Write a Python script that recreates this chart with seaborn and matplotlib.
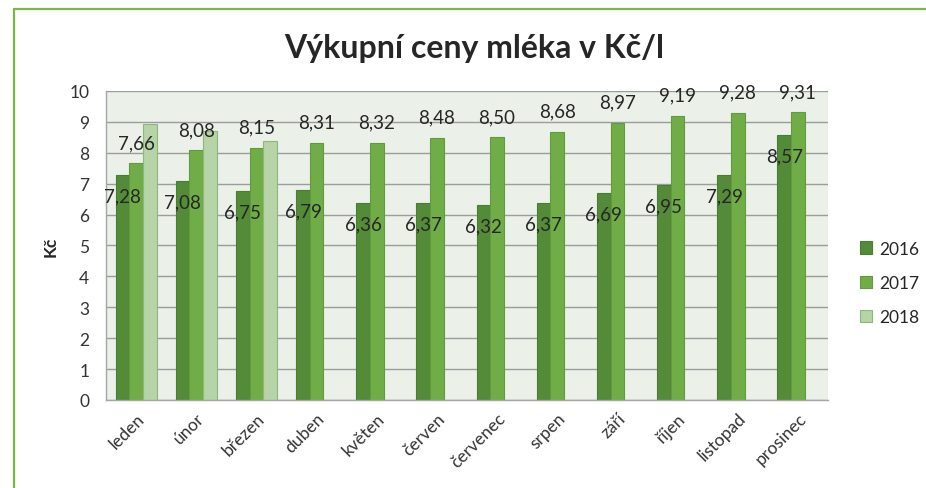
import numpy as np
import pandas as pd
import seaborn as sns
from matplotlib import pyplot as plt
from matplotlib.lines import Line2D
from matplotlib.patches import Rectangle

months = ["leden", "únor", "březen", "duben", "květen", "červen",
          "červenec", "srpen", "září", "říjen", "listopad", "prosinec"]
years = ["2016", "2017", "2018"]
price_2016 = [7.28, 7.08, 6.75, 6.79, 6.36, 6.37, 6.32, 6.37, 6.69, 6.95, 7.29, 8.57]
price_2017 = [7.66, 8.08, 8.15, 8.31, 8.32, 8.48, 8.50, 8.68, 8.97, 9.19, 9.28, 9.31]
# 2018 only has the first three months (no value labels in the source)
price_2018 = [8.94, 8.69, 8.38]

colors = ["#548B38", "#70AD47", "#B7D3A8"]
edges = ["#4A7C31", "#629A3D", "#8DB87A"]

price_2018_full = price_2018 + [np.nan] * (len(months) - len(price_2018))
df = pd.DataFrame({
    "month": months * 3,
    "year": [y for y in years for _ in months],
    "price": price_2016 + price_2017 + price_2018_full,
})

sns.set_style("white")
plt.rcParams['font.family'] = ['Lato', 'DejaVu Sans']

fig = plt.figure(figsize=(9.26, 4.89), dpi=100)
ax = fig.add_axes([0.1145, 0.18, 0.7797, 0.632])
ax.set_facecolor("#EBF0E9")

sns.barplot(data=df, x="month", y="price", hue="year", order=months,
            hue_order=years, palette=colors, saturation=1, width=0.68,
            errorbar=None, legend=False, ax=ax)

for cont, ec in zip(ax.containers, edges):
    for p in cont:
        p.set_edgecolor(ec)
        p.set_linewidth(0.8)

# value labels: 2016 just under the bar top, 2017 above the bar
for cont, off in [(ax.containers[0], -15), (ax.containers[1], 15)]:
    for p in cont:
        h = p.get_height()
        if np.isnan(h):
            continue
        ax.annotate(f"{h:.2f}".replace(".", ","),
                    (p.get_x() + p.get_width() / 2, h),
                    xytext=(0, off), textcoords="offset points",
                    ha="center", va="center", fontsize=13.5, color="#262626")

ax.set_ylim(0, 10)
ax.set_yticks(range(11))
ax.set_xlim(-0.5, len(months) - 0.5)
ax.yaxis.grid(True, color="#9C9C9C", linewidth=1)
ax.set_axisbelow(True)

ax.set_xticks(np.arange(-0.5, len(months), 1), minor=True)
ax.tick_params(axis="x", which="major", length=0, pad=7, labelsize=12.5, labelcolor="#333333")
ax.tick_params(axis="x", which="minor", length=5, color="#A6A6A6", width=1)
ax.tick_params(axis="y", length=5, color="#A6A6A6", pad=7, labelsize=12.5, labelcolor="#333333")
for lab in ax.get_xticklabels():
    lab.set_rotation(45)
    lab.set_ha("right")
    lab.set_rotation_mode("anchor")

ax.set_xlabel("")
ax.set_ylabel("Kč", fontsize=12.5, fontweight="bold", color="#262626", labelpad=8)

for side in ["top", "right"]:
    ax.spines[side].set_visible(False)
for side in ["left", "bottom"]:
    ax.spines[side].set_color("#A6A6A6")
    ax.spines[side].set_linewidth(1)

fig.text(0.512, 0.881, "Výkupní ceny mléka v Kč/l", ha="center", va="baseline",
         fontsize=23, fontweight="bold", color="#262626")

handles = [Rectangle((0, 0), 1, 1, facecolor=c, edgecolor=e, linewidth=0.8)
           for c, e in zip(colors, edges)]
fig.legend(handles, years, loc="upper left", bbox_to_anchor=(0.912, 0.538),
           frameon=False, fontsize=12.5, handlelength=0.7, handleheight=0.7,
           handletextpad=0.4, labelspacing=1.05, labelcolor="#262626")

# green frame around the chart (top and left)
frame = "#7AB648"
fig.add_artist(Line2D([14 / 926, 1], [1 - 10 / 489] * 2, color=frame, lw=1.6,
                      transform=fig.transFigure))
fig.add_artist(Line2D([14 / 926] * 2, [0, 1 - 10 / 489], color=frame, lw=1.6,
                      transform=fig.transFigure))

fig.savefig("out.png", dpi=100)
